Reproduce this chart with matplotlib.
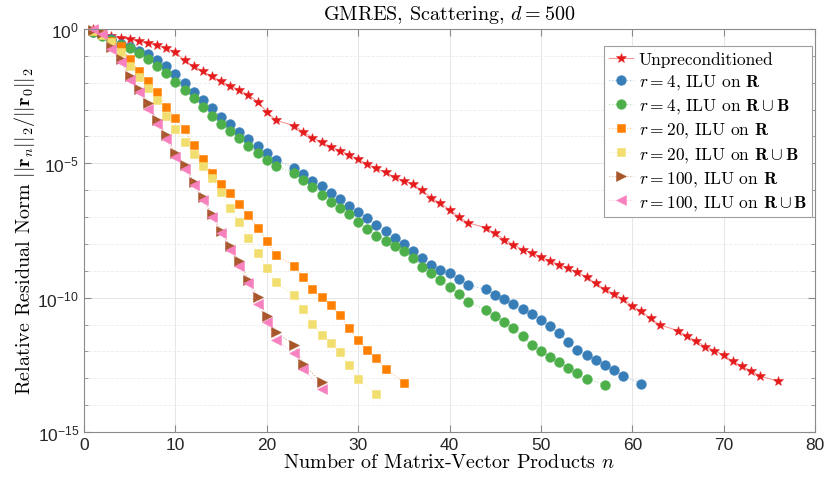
import numpy as np
import matplotlib
matplotlib.use('Agg')
import matplotlib.pyplot as plt
from matplotlib.ticker import FixedLocator, NullFormatter, LogFormatterSciNotation

plt.rcParams['font.family'] = 'Liberation Sans'
plt.rcParams['mathtext.fontset'] = 'cm'
plt.rcParams['axes.unicode_minus'] = False

# iteration numbers and log10 of the relative residual
x_unprec = [1, 2, 3, 4, 5, 6, 7, 8, 9, 10, 11, 12, 13, 14, 15, 16, 17, 18, 19, 20, 21,
            23, 24, 25, 26, 27, 28, 29, 30, 31, 32, 33, 34, 35, 36, 37, 38, 39, 40, 41, 42,
            44, 45, 46, 47, 48, 49, 50, 51, 52, 53, 54, 55, 56, 57, 58, 59, 60, 61, 62, 63,
            65, 66, 67, 68, 69, 70, 71, 72, 73, 74, 76]
lg_unprec = [0.0, -0.17, -0.26, -0.32, -0.38, -0.46, -0.53, -0.61, -0.72, -0.86, -1.17, -1.39,
             -1.58, -1.76, -1.95, -2.11, -2.27, -2.46, -2.71, -3.08, -3.40,
             -3.60, -3.83, -4.04, -4.22, -4.38, -4.53, -4.68, -4.85, -5.03, -5.19, -5.34, -5.51,
             -5.66, -5.78, -6.01, -6.28, -6.49, -6.72, -6.98, -7.21,
             -7.40, -7.61, -7.84, -8.03, -8.21, -8.33, -8.48, -8.64, -8.77, -8.91, -9.06, -9.23,
             -9.47, -9.68, -9.86, -10.06, -10.30, -10.51, -10.77, -11.01,
             -11.23, -11.43, -11.62, -11.82, -11.97, -12.15, -12.36, -12.56, -12.72, -12.92,
             -13.11]

x_r4 = [1, 2, 3, 4, 5, 6, 7, 8, 9, 10, 11, 12, 13, 14, 15, 16, 17, 18, 19, 20, 21,
        23, 24, 25, 26, 27, 28, 29, 30, 31, 32, 33, 34, 35, 36, 37, 38, 39, 40, 41, 42,
        44, 45, 46, 47, 48, 49, 50, 51, 52, 53, 54, 55, 56, 57, 58, 59, 61]
lg_r4 = [-0.10, -0.22, -0.38, -0.55, -0.68, -0.80, -0.94, -1.15, -1.37, -1.69, -2.01, -2.33,
         -2.63, -2.95, -3.26, -3.55, -3.85, -4.09, -4.34, -4.63, -4.89,
         -5.16, -5.41, -5.65, -5.85, -6.12, -6.34, -6.57, -6.80, -7.04, -7.28, -7.52, -7.77,
         -8.02, -8.27, -8.52, -8.77, -8.96, -9.10, -9.30, -9.53,
         -9.69, -9.89, -10.04, -10.22, -10.41, -10.61, -10.82, -11.06, -11.33, -11.65, -11.94,
         -12.14, -12.31, -12.50, -12.70, -12.90, -13.20]

x_r4b = [1, 2, 3, 4, 5, 6, 7, 8, 9, 10, 11, 12, 13, 14, 15, 16, 17, 18, 19, 20, 21,
         23, 24, 25, 26, 27, 28, 29, 30, 31, 32, 33, 34, 35, 36, 37, 38, 39, 40, 41, 42,
         44, 45, 46, 47, 48, 49, 50, 51, 52, 53, 54, 55, 57]
lg_r4b = [-0.10, -0.25, -0.42, -0.60, -0.72, -0.90, -1.13, -1.39, -1.64, -1.96, -2.28, -2.58,
          -2.89, -3.23, -3.54, -3.81, -4.07, -4.34, -4.63, -4.88, -5.11,
          -5.36, -5.63, -5.87, -6.16, -6.43, -6.68, -6.90, -7.18, -7.46, -7.69, -7.89, -8.08,
          -8.28, -8.54, -8.86, -9.10, -9.35, -9.59, -9.85, -10.17,
          -10.44, -10.67, -10.90, -11.14, -11.43, -11.77, -11.99, -12.20, -12.40, -12.61,
          -12.82, -13.02, -13.24]

x_r20 = [1, 2, 3, 4, 5, 6, 7, 8, 9, 10, 11, 12, 13, 14, 15, 16, 17, 18, 19, 20, 21,
         23, 24, 25, 26, 27, 28, 29, 30, 31, 32, 33, 35]
lg_r20 = [-0.08, -0.20, -0.43, -0.64, -1.12, -1.56, -1.94, -2.34, -2.89, -3.33, -3.73, -4.33,
          -4.85, -5.35, -5.77, -6.12, -6.50, -6.93, -7.40, -7.90, -8.42,
          -8.83, -9.24, -9.66, -9.99, -10.27, -10.66, -11.14, -11.58, -11.93, -12.24, -12.65,
          -13.16]

x_r20b = [1, 2, 3, 4, 5, 6, 7, 8, 9, 10, 11, 12, 13, 14, 15, 16, 17, 18, 19, 20, 21,
          23, 24, 25, 26, 27, 28, 29, 30, 32]
lg_r20b = [-0.08, -0.22, -0.47, -0.84, -1.37, -1.80, -2.21, -2.66, -3.25, -3.71, -4.20, -4.66,
           -5.10, -5.55, -6.07, -6.65, -7.19, -7.79, -8.33, -8.89, -9.43,
           -9.91, -10.42, -10.97, -11.39, -11.68, -12.04, -12.51, -13.02, -13.58]

x_r100 = [1, 2, 3, 4, 5, 6, 7, 8, 9, 10, 11, 12, 13, 14, 15, 16, 17, 18, 19, 20, 21, 23, 24, 26]
lg_r100 = [-0.02, -0.15, -0.68, -1.12, -1.75, -2.22, -2.75, -3.40, -3.95, -4.62, -5.08, -5.70,
           -6.24, -6.90, -7.53, -8.08, -8.64, -9.35, -9.97, -10.70, -11.28, -11.77, -12.47, -13.15]
lg_r100b = [0.0, -0.19, -0.75, -1.21, -1.89, -2.34, -2.96, -3.52, -4.10, -4.75, -5.20, -5.81,
            -6.37, -7.00, -7.59, -8.21, -8.83, -9.45, -10.22, -10.91, -11.57, -12.06, -12.66, -13.41]

labels = [r'Unpreconditioned',
          r'$r = 4$, ILU on $\mathbf{R}$',
          r'$r = 4$, ILU on $\mathbf{R} \cup \mathbf{B}$',
          r'$r = 20$, ILU on $\mathbf{R}$',
          r'$r = 20$, ILU on $\mathbf{R} \cup \mathbf{B}$',
          r'$r = 100$, ILU on $\mathbf{R}$',
          r'$r = 100$, ILU on $\mathbf{R} \cup \mathbf{B}$']

series = [(x_unprec, lg_unprec, '#E41A1C', '*', 7.5),
          (x_r4, lg_r4, '#377EB8', 'o', 7),
          (x_r4b, lg_r4b, '#4DAF4A', 'o', 7),
          (x_r20, lg_r20, '#FF7F00', 's', 5.5),
          (x_r20b, lg_r20b, '#F2DE6E', 's', 5.5),
          (x_r100, lg_r100, '#A65628', '>', 6.5),
          (x_r100, lg_r100b, '#F781BF', '<', 6.5)]

fig = plt.figure(figsize=(8.27, 4.85), dpi=100)
ax = fig.add_axes([0.1016, 0.1072, 0.8839, 0.8309])

for (xs, lg, col, mk, ms), lab in zip(series, labels):
    rgb = matplotlib.colors.to_rgb(col)
    ls = '-' if mk == '*' else ':'
    ax.plot(xs, 10.0 ** np.array(lg), linestyle=ls, lw=0.8, color=rgb + (0.45,),
            marker=mk, ms=ms, mfc=rgb, mec=rgb + (0.6,), mew=0.6, label=lab, clip_on=False)

ax.set_yscale('log')
ax.set_xlim(0, 80)
ax.set_ylim(1e-15, 1)
ax.set_xticks(range(0, 81, 10))
ax.yaxis.set_major_locator(FixedLocator([1e-15, 1e-10, 1e-5, 1e0]))
ax.yaxis.set_major_formatter(LogFormatterSciNotation())
ax.yaxis.set_minor_locator(FixedLocator([10.0 ** k for k in range(-15, 1)]))
ax.yaxis.set_minor_formatter(NullFormatter())

ax.grid(True, which='major', color='#e6e6e6', lw=0.7, ls='-')
ax.grid(True, which='minor', axis='y', color='#ececec', lw=0.6, ls='--')
ax.set_axisbelow(True)
for s in ax.spines.values():
    s.set_color('#8a8a8a')
    s.set_linewidth(0.8)
ax.tick_params(which='both', direction='in', top=True, right=True, color='#8a8a8a',
               labelsize=12.5, labelcolor='#262626')
ax.tick_params(which='major', length=5)
ax.tick_params(which='minor', length=3)

ax.set_title(r'GMRES, Scattering, $d = 500$', family='cmr10', fontsize=14.5, pad=7)
ax.set_xlabel(r'Number of Matrix-Vector Products $n$', family='cmr10', fontsize=14.5, labelpad=1)
ax.set_ylabel(r'Relative Residual Norm $||\mathbf{r}_n||_2/||\mathbf{r}_0||_2$', family='cmr10',
              fontsize=14.5, labelpad=0)

leg = ax.legend(loc='upper right', bbox_to_anchor=(1 - 3 / 731, 1 - 17 / 403), borderaxespad=0,
                prop={'family': 'cmr10', 'size': 12.5}, handlelength=1.4, handletextpad=0.3,
                labelspacing=0.3, borderpad=0.3, fancybox=False, framealpha=1)
leg.get_frame().set_edgecolor('#a0a0a0')
leg.get_frame().set_linewidth(0.8)

fig.savefig('out.png', dpi=100)
